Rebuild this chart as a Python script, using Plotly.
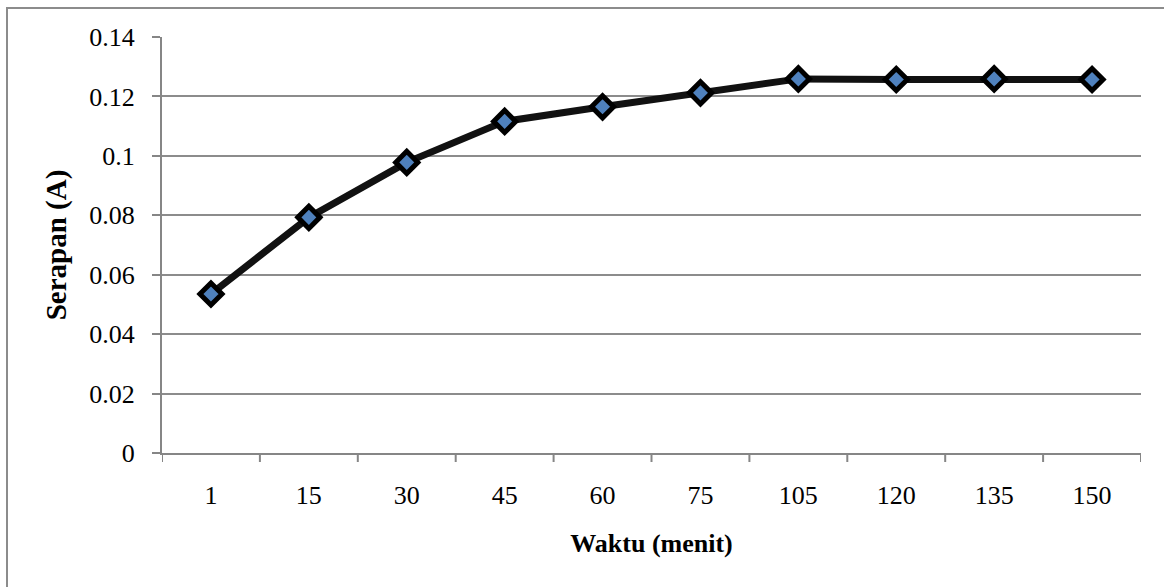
import plotly.graph_objects as go

categories = ["1", "15", "30", "45", "60", "75", "105", "120", "135", "150"]
serapan = [0.0535, 0.0793, 0.0978, 0.1116, 0.1165, 0.1212, 0.1259, 0.1257, 0.1259, 0.1257]
y_ticks = [0, 0.02, 0.04, 0.06, 0.08, 0.1, 0.12, 0.14]
y_tick_labels = ["0", "0.02", "0.04", "0.06", "0.08", "0.1", "0.12", "0.14"]

W, H = 1164, 587
L, R, T, B = 162, 1141, 37, 453

fig = go.Figure()
fig.add_trace(go.Scatter(
    x=list(range(len(categories))), y=serapan, mode="lines+markers",
    line=dict(color="#111111", width=7),
    marker=dict(symbol="diamond", size=17, color="#4F81BD",
                line=dict(color="#000000", width=5)),
    showlegend=False, cliponaxis=False, hoverinfo="skip",
))

font = "Liberation Serif, Times New Roman, serif"
fig.update_layout(
    width=W, height=H,
    margin=dict(l=L, r=W - R, t=T, b=H - B, pad=0),
    paper_bgcolor="white", plot_bgcolor="white",
    font=dict(family=font, size=26, color="#000000"),
    xaxis=dict(
        range=[-0.5, len(categories) - 0.5],
        tickmode="array", tickvals=list(range(len(categories))), ticktext=categories,
        showgrid=False, zeroline=False,
        showline=True, linecolor="#868686", linewidth=2,
        ticks="", ticklabelstandoff=18,
        title=dict(text="<b>Waktu (menit)</b>", font=dict(size=26), standoff=25),
    ),
    yaxis=dict(
        range=[0, 0.14],
        tickmode="array", tickvals=y_ticks, ticktext=y_tick_labels,
        showgrid=True, gridcolor="#8C8C8C", gridwidth=2,
        zeroline=False,
        showline=True, linecolor="#868686", linewidth=2,
        ticks="outside", ticklen=8, tickcolor="#868686", tickwidth=2,
        ticklabelstandoff=12,
        title=dict(text="<b>Serapan (A)</b>", font=dict(size=29), standoff=14),
    ),
)

# category-separator tick marks on x axis (between categories)
for i in range(len(categories) + 1):
    fig.add_shape(type="line", xref="x", yref="paper",
                  x0=i - 0.5, x1=i - 0.5, y0=0, y1=-9 / (B - T),
                  line=dict(color="#868686", width=2))

# outer chart border
fig.add_shape(type="rect", xref="paper", yref="paper",
              x0=(7 - L) / (R - L), x1=(1170 - L) / (R - L),
              y0=(B - 600) / (B - T), y1=(B - 8) / (B - T),
              line=dict(color="#8C8C8C", width=2), fillcolor="rgba(0,0,0,0)", layer="below")

fig.write_html("out.html", config={"displayModeBar": False},
               post_script="document.body.style.margin='0';document.body.style.padding='0';document.body.style.overflow='hidden';")
